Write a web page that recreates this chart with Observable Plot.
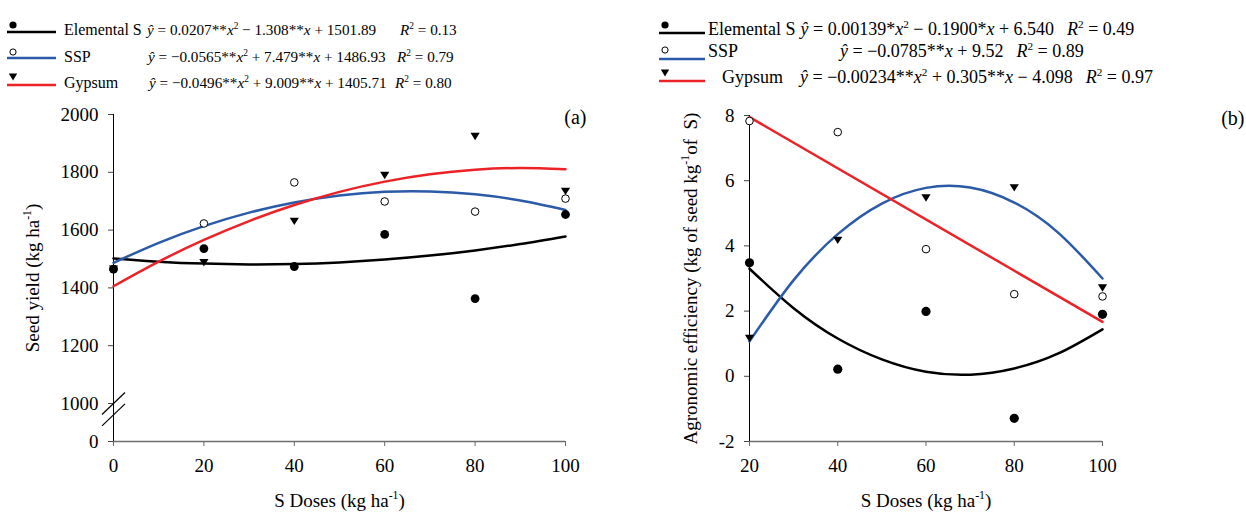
<!DOCTYPE html>
<html>
<head>
<meta charset="utf-8">
<script src="https://cdn.jsdelivr.net/npm/d3@7"></script>
<script src="https://cdn.jsdelivr.net/npm/@observablehq/plot@0.6"></script>
<style>
  html, body { margin: 0; padding: 0; background: #fff; }
  #wrap { position: relative; width: 1246px; height: 513px; overflow: hidden; font-family: "Liberation Serif", "Times New Roman", serif; }
  #pa { position: absolute; left: 0; top: 0; }
  #pb { position: absolute; left: 620px; top: 0; }
  #legend { position: absolute; left: 0; top: 0; z-index: 2; pointer-events: none; }
</style>
</head>
<body>
<div id="wrap">
  <div id="pa"></div>
  <div id="pb"></div>
  <svg id="legend" width="1246" height="100" xmlns="http://www.w3.org/2000/svg"></svg>
</div>
<script>
// ---------------- DATA ----------------
// Panel (a): seed yield
const dosesA = [0, 20, 40, 60, 80, 100];
const yieldElemental = [1465, 1536, 1474, 1585, 1363, 1654];
const yieldSSP       = [1465, 1623, 1765, 1699, 1664, 1709];
const yieldGypsum    = [1465, 1487, 1630, 1789, 1924, 1734];
// fitted curves
const fitXA = [0, 10, 20, 30, 40, 50, 60, 70, 80, 90, 100];
const fitElementalA = [1501.9, 1490.9, 1484.0, 1481.3, 1482.7, 1488.2, 1497.9, 1511.8, 1529.7, 1551.8, 1578.1];
const fitSSPA       = [1486.9, 1556.1, 1613.9, 1660.5, 1695.7, 1719.6, 1732.3, 1733.6, 1723.7, 1702.4, 1669.8];
const fitGypsumA    = [1405.7, 1490.8, 1566.1, 1631.3, 1686.7, 1732.2, 1767.7, 1793.3, 1809.0, 1814.8, 1810.6];
const xTicksA = [0, 20, 40, 60, 80, 100];
const yTicksA = [0, 1000, 1200, 1400, 1600, 1800, 2000];
const yBreakA = [0, 1000, 2000];
const breakMarksA = [1000, 700];

// Panel (b): agronomic efficiency
const dosesB = [20, 40, 60, 80, 100];
const aeElemental = [3.48, 0.22, 1.99, -1.29, 1.90];
const aeSSP       = [7.83, 7.49, 3.90, 2.52, 2.45];
const aeGypsum    = [1.16, 4.17, 5.47, 5.78, 2.71];
const fitXB = [20, 30, 40, 50, 60, 70, 80, 90, 100];
const fitBlackB = [3.30, 2.09, 1.16, 0.52, 0.14, 0.05, 0.24, 0.70, 1.44];
const fitBlueB  = [1.07, 2.95, 4.36, 5.30, 5.78, 5.79, 5.33, 4.40, 3.00];
const fitRedXB  = [20, 100];
const fitRedB   = [7.95, 1.67];
const xTicksB = [20, 40, 60, 80, 100];
const yTicksB = [-2, 0, 2, 4, 6, 8];

// Legend texts
const seriesNames = ["Elemental S", "SSP", "Gypsum"];
const eqA = [
  "<i>ŷ</i> = 0.0207**<i>x</i><sup>2</sup> − 1.308**<i>x</i> + 1501.89",
  "<i>ŷ</i> = −0.0565**<i>x</i><sup>2</sup> + 7.479**<i>x</i> + 1486.93",
  "<i>ŷ</i> = −0.0496**<i>x</i><sup>2</sup> + 9.009**<i>x</i> + 1405.71"
];
const r2A = ["0.13", "0.79", "0.80"];
const eqB = [
  "<i>ŷ</i> = 0.00139*<i>x</i><sup>2</sup> − 0.1900*<i>x</i> + 6.540",
  "<i>ŷ</i> = −0.0785**<i>x</i> + 9.52",
  "<i>ŷ</i> = −0.00234**<i>x</i><sup>2</sup> + 0.305**<i>x</i> − 4.098"
];
const r2B = ["0.49", "0.89", "0.97"];
const xLabel = "S Doses (kg ha<sup>-1</sup>)";
const yLabelA = "Seed yield (kg ha<sup>-1</sup>)";
const yLabelB = "Agronomic efficiency (kg of seed kg<sup>-1</sup>of  S)";

// ---------------- STYLE ----------------
const BLACK = "#000000", BLUE = "#2b5aa8", RED = "#ec2227";
const FONT = "'Liberation Serif', 'Times New Roman', serif";
const ns = "http://www.w3.org/2000/svg";

function rows(xs, ys) { return xs.map((x, i) => ({x, y: ys[i]})); }

const triDown = {
  draw(ctx, size) {
    const w = Math.sqrt(size) * 0.52;
    ctx.moveTo(-w, -0.8 * w);
    ctx.lineTo(w, -0.8 * w);
    ctx.lineTo(0, 0.8 * w);
    ctx.closePath();
  }
};
const slash = {
  draw(ctx, size) {
    ctx.moveTo(-11.5, 11);
    ctx.lineTo(11.5, -11);
  }
};

function setRich(textEl, str, fs) {
  while (textEl.firstChild) textEl.removeChild(textEl.firstChild);
  const parts = str.split(/(<i>.*?<\/i>|<sup>.*?<\/sup>)/).filter(s => s.length);
  let shifted = false;
  for (const p of parts) {
    const t = document.createElementNS(ns, "tspan");
    if (p.startsWith("<sup>")) {
      t.textContent = p.slice(5, -6);
      t.setAttribute("font-size", (0.62 * fs).toFixed(1));
      t.setAttribute("dy", (-0.38 * fs).toFixed(1));
      shifted = true;
    } else {
      if (p.startsWith("<i>")) { t.textContent = p.slice(3, -4); t.setAttribute("font-style", "italic"); }
      else t.textContent = p;
      if (shifted) { t.setAttribute("dy", (0.38 * fs).toFixed(1)); shifted = false; }
    }
    textEl.appendChild(t);
  }
}
function fixRich(svg, fs) {
  svg.querySelectorAll("text").forEach(t => {
    if (t.textContent.includes("<sup>") || t.textContent.includes("<i>")) setRich(t, t.textContent, fs);
  });
}

// ---------------- PANEL A ----------------
const plotA = Plot.plot({
  width: 620, height: 513,
  marginLeft: 113, marginRight: 55, marginTop: 114, marginBottom: 72,
  style: {fontFamily: FONT, fontSize: "19px", background: "transparent", overflow: "visible", color: "#000"},
  x: {domain: [0, 100]},
  y: {type: "linear", domain: yBreakA, range: [441, 403, 114]},
  marks: [
    Plot.axisX({ticks: xTicksA, tickSize: 5, tickPadding: 12, stroke: "#666", fill: "#000", label: null, tickFormat: d => String(d)}),
    Plot.axisY({ticks: yTicksA, tickSize: 5, tickPadding: 10, stroke: "#444", fill: "#000", label: null, tickFormat: d => String(d)}),
    Plot.ruleY([0], {stroke: "#6e6e6e", strokeWidth: 1.6}),
    Plot.ruleX([0], {stroke: "#000", strokeWidth: 1}),
    Plot.dot(breakMarksA, {x: 0, y: d => d, symbol: slash, stroke: "#000", strokeWidth: 1.2, r: 5}),
    Plot.line(rows(fitXA, fitElementalA), {x: "x", y: "y", stroke: BLACK, strokeWidth: 2.5, curve: "natural"}),
    Plot.line(rows(fitXA, fitSSPA), {x: "x", y: "y", stroke: BLUE, strokeWidth: 2.5, curve: "natural"}),
    Plot.line(rows(fitXA, fitGypsumA), {x: "x", y: "y", stroke: RED, strokeWidth: 2.5, curve: "natural"}),
    Plot.dot(rows(dosesA, yieldSSP), {x: "x", y: "y", r: 3.8, stroke: "#000", strokeWidth: 1, fill: "#fff"}),
    Plot.dot(rows(dosesA, yieldGypsum), {x: "x", y: "y", r: 5, symbol: triDown, fill: "#000", stroke: "none"}),
    Plot.dot(rows(dosesA, yieldElemental), {x: "x", y: "y", r: 4.4, fill: "#000", stroke: "none"}),
    Plot.text([yLabelA], {frameAnchor: "left", dx: -81, rotate: -90, textAnchor: "middle", lineAnchor: "middle", fontSize: 19}),
    Plot.text([xLabel], {frameAnchor: "bottom", dy: 59, textAnchor: "middle", lineAnchor: "middle", fontSize: 19}),
    Plot.text(["(a)"], {frameAnchor: "top-right", dx: 21, dy: 3, textAnchor: "end", lineAnchor: "middle", fontSize: 20})
  ]
});
fixRich(plotA, 19);
document.getElementById("pa").appendChild(plotA);

// ---------------- PANEL B ----------------
const plotB = Plot.plot({
  width: 626, height: 513,
  marginLeft: 129, marginRight: 144, marginTop: 115, marginBottom: 72,
  style: {fontFamily: FONT, fontSize: "19px", background: "transparent", overflow: "visible", color: "#000"},
  x: {domain: [20, 100]},
  y: {domain: [-2, 8]},
  marks: [
    Plot.axisX({ticks: xTicksB, tickSize: 5, tickPadding: 12, stroke: "#666", fill: "#000", label: null, tickFormat: d => String(d)}),
    Plot.axisY({ticks: yTicksB, tickSize: 5, tickPadding: 10, stroke: "#444", fill: "#000", label: null, tickFormat: d => String(d)}),
    Plot.ruleY([-2], {stroke: "#6e6e6e", strokeWidth: 1.6}),
    Plot.ruleX([20], {stroke: "#000", strokeWidth: 1}),
    Plot.line(rows(fitXB, fitBlackB), {x: "x", y: "y", stroke: BLACK, strokeWidth: 2.5, curve: "natural"}),
    Plot.line(rows(fitXB, fitBlueB), {x: "x", y: "y", stroke: BLUE, strokeWidth: 2.5, curve: "natural"}),
    Plot.line(rows(fitRedXB, fitRedB), {x: "x", y: "y", stroke: RED, strokeWidth: 2.5}),
    Plot.dot(rows(dosesB, aeSSP), {x: "x", y: "y", r: 3.8, stroke: "#000", strokeWidth: 1, fill: "#fff"}),
    Plot.dot(rows(dosesB, aeGypsum), {x: "x", y: "y", r: 5, symbol: triDown, fill: "#000", stroke: "none"}),
    Plot.dot(rows(dosesB, aeElemental), {x: "x", y: "y", r: 4.6, fill: "#000", stroke: "none"}),
    Plot.text([yLabelB], {frameAnchor: "left", dx: -59, rotate: -90, textAnchor: "middle", lineAnchor: "middle", fontSize: 19}),
    Plot.text([xLabel], {frameAnchor: "bottom", dy: 59, textAnchor: "middle", lineAnchor: "middle", fontSize: 19}),
    Plot.text(["(b)"], {frameAnchor: "top-right", dx: 142, dy: 3, textAnchor: "end", lineAnchor: "middle", fontSize: 20})
  ]
});
fixRich(plotB, 19);
document.getElementById("pb").appendChild(plotB);

// ---------------- LEGENDS ----------------
const legend = document.getElementById("legend");
const colors = [BLACK, BLUE, RED];
function el(tag, attrs, parent) {
  const e = document.createElementNS(ns, tag);
  for (const k in attrs) e.setAttribute(k, attrs[k]);
  parent.appendChild(e);
  return e;
}
function marker(kind, cx, cy, parent) {
  if (kind === 0) el("circle", {cx, cy, r: 3.6, fill: "#000"}, parent);
  else if (kind === 1) el("circle", {cx, cy, r: 3.1, fill: "#fff", stroke: "#000", "stroke-width": 1}, parent);
  else el("path", {d: `M${cx - 4.2},${cy - 3.4}L${cx + 4.2},${cy - 3.4}L${cx},${cy + 3.4}Z`, fill: "#000"}, parent);
}
// eqX: number = absolute x; null = right after the name
function legendBlock(cfg, eqs, r2s) {
  for (let i = 0; i < 3; i++) {
    el("line", {x1: cfg.lineX[0], x2: cfg.lineX[1], y1: cfg.lineY[i], y2: cfg.lineY[i], stroke: colors[i], "stroke-width": 2.6}, legend);
    marker(i, cfg.markerX, cfg.markerY[i], legend);
    const tn = el("text", {x: cfg.nameX[i], y: cfg.base[i], "font-family": FONT, "font-size": cfg.fs}, legend);
    tn.textContent = seriesNames[i];
    let ex = cfg.eqX[i];
    if (ex == null) ex = cfg.nameX[i] + tn.getComputedTextLength() + 5;
    const te = el("text", {x: ex, y: cfg.base[i], "font-family": FONT, "font-size": cfg.fe}, legend);
    setRich(te, eqs[i], cfg.fe);
    let rx = cfg.r2X ? cfg.r2X[i] : ex + te.getComputedTextLength() + cfg.gap;
    const tr = el("text", {x: rx, y: cfg.base[i], "font-family": FONT, "font-size": cfg.fe}, legend);
    setRich(tr, "<i>R</i><sup>2</sup> = " + r2s[i], cfg.fe);
  }
}
legendBlock({
  fs: 16, fe: 15.2,
  lineX: [7, 56], lineY: [32, 58, 85], markerX: 13, markerY: [25, 52, 77],
  nameX: [64, 64, 64], eqX: [147, 148, 149], r2X: [400, 397, 395], base: [35, 62, 88]
}, eqA, r2A);
legendBlock({
  fs: 18, fe: 18, gap: 13,
  lineX: [659, 705], lineY: [33, 59, 81], markerX: 665, markerY: [25, 50, 73],
  nameX: [708, 708, 722], eqX: [null, 840, 800], base: [35, 57, 83]
}, eqB, r2B);
</script>
</body>
</html>
